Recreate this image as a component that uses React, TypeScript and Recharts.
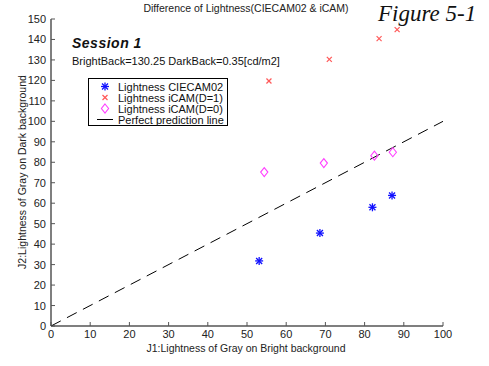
import { Scatter, ScatterChart, XAxis, YAxis } from "recharts";

const W = 489;
const H = 366;
const FONT = "'Liberation Sans', Arial, sans-serif";
const AXIS = "#555555";

const ciecamJ1 = [53.1, 68.6, 82.0, 87.0];
const ciecamJ2 = [31.8, 45.4, 58.0, 63.8];
const icamD1J1 = [55.6, 71.0, 83.7, 88.3];
const icamD1J2 = [119.7, 130.3, 140.4, 144.8];
const icamD0J1 = [54.4, 69.6, 82.5, 87.2];
const icamD0J2 = [75.2, 79.6, 83.2, 84.9];
const perfectLine = [0, 100];
const xTicks = [0, 10, 20, 30, 40, 50, 60, 70, 80, 90, 100];
const yTicks = [0, 10, 20, 30, 40, 50, 60, 70, 80, 90, 100, 110, 120, 130, 140, 150];

const toPoints = (xs: number[], ys: number[]) => xs.map((x, i) => ({ x, y: ys[i] }));

const BLUE = "#1010ff";
const RED = "#ff5a5a";
const MAGENTA = "#ff40ff";

function Asterisk({ cx, cy }: any) {
  const r = 4;
  return (
    <g stroke={BLUE} strokeWidth={1.3}>
      <line x1={cx - r} y1={cy} x2={cx + r} y2={cy} />
      <line x1={cx} y1={cy - r} x2={cx} y2={cy + r} />
      <line x1={cx - 3} y1={cy - 3} x2={cx + 3} y2={cy + 3} />
      <line x1={cx - 3} y1={cy + 3} x2={cx + 3} y2={cy - 3} />
    </g>
  );
}

function Cross({ cx, cy }: any) {
  const r = 2.5;
  return (
    <g stroke={RED} strokeWidth={1.2}>
      <line x1={cx - r} y1={cy - r} x2={cx + r} y2={cy + r} />
      <line x1={cx - r} y1={cy + r} x2={cx + r} y2={cy - r} />
    </g>
  );
}

function Diamond({ cx, cy }: any) {
  const r = 4.5;
  return (
    <path
      d={`M${cx},${cy - r}L${cx + r * 0.8},${cy}L${cx},${cy + r}L${cx - r * 0.8},${cy}Z`}
      fill="none"
      stroke={MAGENTA}
      strokeWidth={1.1}
    />
  );
}

function XTick({ x, y, payload }: any) {
  return (
    <g>
      <line x1={x} y1={y} x2={x} y2={y - 4} stroke={AXIS} strokeWidth={1} />
      <text x={x} y={y + 12} textAnchor="middle" fontSize={11} fill="#222" fontFamily={FONT}>
        {payload.value}
      </text>
    </g>
  );
}

function YTick({ x, y, payload }: any) {
  return (
    <g>
      <line x1={x} y1={y} x2={x + 4} y2={y} stroke={AXIS} strokeWidth={1} />
      <text x={x - 5} y={y + 4} textAnchor="end" fontSize={11} fill="#222" fontFamily={FONT}>
        {payload.value}
      </text>
    </g>
  );
}

const legendItems = [
  { label: "Lightness CIECAM02", kind: "ast" },
  { label: "Lightness iCAM(D=1)", kind: "x" },
  { label: "Lightness iCAM(D=0)", kind: "dia" },
  { label: "Perfect prediction line", kind: "line" },
];

function LegendMarker({ kind }: { kind: string }) {
  const cx = 16;
  const cy = 5.5;
  return (
    <svg width={29} height={11} style={{ display: "block", flexShrink: 0 }}>
      {kind === "ast" && <Asterisk cx={cx} cy={cy} />}
      {kind === "x" && <Cross cx={cx} cy={cy} />}
      {kind === "dia" && <Diamond cx={cx} cy={cy} />}
      {kind === "line" && <line x1={8} y1={cy} x2={24} y2={cy} stroke="#000" strokeWidth={1} />}
    </svg>
  );
}

export default function App() {
  return (
    <div style={{ position: "absolute", left: 0, top: 0, width: W, height: H, background: "#fff", fontFamily: FONT }}>
      <ScatterChart width={W} height={H} margin={{ top: 19, right: 46, bottom: 20, left: 21 }}>
        <XAxis
          type="number"
          dataKey="x"
          domain={[0, 100]}
          ticks={xTicks}
          interval={0}
          height={20}
          tickSize={0}
          tickMargin={0}
          tick={<XTick />}
          axisLine={{ stroke: AXIS, strokeWidth: 1.5 }}
          tickLine={false}
          allowDataOverflow
        />
        <YAxis
          type="number"
          dataKey="y"
          domain={[0, 150]}
          ticks={yTicks}
          interval={0}
          width={30}
          tickSize={0}
          tickMargin={0}
          tick={<YTick />}
          axisLine={{ stroke: AXIS, strokeWidth: 1.5 }}
          tickLine={false}
          allowDataOverflow
        />
        <Scatter
          data={toPoints(perfectLine, perfectLine)}
          line={{ stroke: "#000", strokeWidth: 1, strokeDasharray: "11 7" }}
          shape={() => null}
          isAnimationActive={false}
        />
        <Scatter data={toPoints(ciecamJ1, ciecamJ2)} shape={<Asterisk />} isAnimationActive={false} />
        <Scatter data={toPoints(icamD1J1, icamD1J2)} shape={<Cross />} isAnimationActive={false} />
        <Scatter data={toPoints(icamD0J1, icamD0J2)} shape={<Diamond />} isAnimationActive={false} />
      </ScatterChart>

      <div style={{ position: "absolute", left: 0, width: 492, top: 2, textAlign: "center", fontSize: 10.5, color: "#222" }}>
        Difference of Lightness(CIECAM02 &amp; iCAM)
      </div>
      <div
        style={{
          position: "absolute",
          left: 378,
          top: 2,
          fontSize: 23,
          lineHeight: "23px",
          fontStyle: "italic",
          fontFamily: "'Liberation Serif', serif",
          color: "#111",
          whiteSpace: "nowrap",
        }}
      >
        Figure 5-1
      </div>
      <div style={{ position: "absolute", left: 72, top: 35, fontSize: 14, fontWeight: "bold", fontStyle: "italic", color: "#111", letterSpacing: 0.5 }}>
        Session 1
      </div>
      <div style={{ position: "absolute", left: 72, top: 55, fontSize: 11, color: "#111", whiteSpace: "nowrap" }}>
        BrightBack=130.25 DarkBack=0.35[cd/m2]
      </div>

      <div
        style={{
          position: "absolute",
          left: 88,
          top: 78,
          width: 140,
          height: 48,
          border: "1px solid #000",
          background: "#fff",
          padding: "2px 0 0 0",
          boxSizing: "border-box",
        }}
      >
        {legendItems.map((it) => (
          <div key={it.label} style={{ display: "flex", alignItems: "center", height: 11, fontSize: 11, color: "#111", whiteSpace: "nowrap" }}>
            <LegendMarker kind={it.kind} />
            <span>{it.label}</span>
          </div>
        ))}
      </div>

      <div
        style={{
          position: "absolute",
          left: 22,
          top: 172,
          transform: "translate(-50%, -50%) rotate(-90deg)",
          fontSize: 10.5,
          color: "#222",
          whiteSpace: "nowrap",
        }}
      >
        J2:Lightness of Gray on Dark background
      </div>
      <div style={{ position: "absolute", left: 0, width: 492, top: 342, textAlign: "center", fontSize: 10.5, color: "#222" }}>
        J1:Lightness of Gray on Bright background
      </div>
    </div>
  );
}
